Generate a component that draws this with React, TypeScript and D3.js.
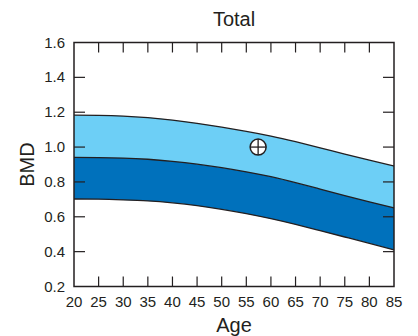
import React from "react";
import * as d3 from "d3";

const ages = [20, 25, 30, 35, 40, 45, 50, 55, 60, 65, 70, 75, 80, 85];
const upper = [1.183, 1.182, 1.178, 1.169, 1.155, 1.136, 1.114, 1.09, 1.063, 1.031, 0.996, 0.96, 0.925, 0.891];
const middle = [0.941, 0.94, 0.937, 0.93, 0.918, 0.902, 0.882, 0.858, 0.83, 0.796, 0.759, 0.722, 0.686, 0.651];
const lower = [0.702, 0.701, 0.697, 0.691, 0.68, 0.664, 0.643, 0.618, 0.589, 0.556, 0.52, 0.484, 0.448, 0.41];
const patient = { age: 57.4, bmd: 1.0 };
const xTicks = [20, 25, 30, 35, 40, 45, 50, 55, 60, 65, 70, 75, 80, 85];
const yTicks = [0.2, 0.4, 0.6, 0.8, 1.0, 1.2, 1.4, 1.6];

const W = 418, H = 336;
const L = 74, R = 394, T = 42.5, B = 286.5;
const FONT = "'Liberation Sans', Arial, Helvetica, sans-serif";
const INK = "#231f20";

export default function App() {
  const x = d3.scaleLinear().domain([20, 85]).range([L, R]);
  const y = d3.scaleLinear().domain([0.2, 1.6]).range([B, T]);
  const idx = ages.map((_, i) => i);
  const band = (a: number[], b: number[]) =>
    d3.area<number>().x(i => x(ages[i])).y0(i => y(b[i])).y1(i => y(a[i])).curve(d3.curveNatural)(idx) || "";
  const line = (a: number[]) =>
    d3.line<number>().x(i => x(ages[i])).y(i => y(a[i])).curve(d3.curveNatural)(idx) || "";
  const px = x(patient.age), py = y(patient.bmd);
  const r = 8;
  return (
    <svg width={W} height={H} style={{ position: "absolute", left: 0, top: 0 }} fontFamily={FONT}>
      <rect width={W} height={H} fill="#fff" />
      <path d={band(upper, middle)} fill="#6dcff6" />
      <path d={band(middle, lower)} fill="#0071bc" />
      {[upper, middle, lower].map((s, k) => (
        <path key={k} d={line(s)} fill="none" stroke={INK} strokeWidth={1.3} />
      ))}
      {xTicks.slice(1, -1).map(t => (
        <g key={"xt" + t} stroke={INK} strokeWidth={1.2}>
          <line x1={x(t)} x2={x(t)} y1={B} y2={B - 10} />
          <line x1={x(t)} x2={x(t)} y1={T} y2={T + 10} />
        </g>
      ))}
      {yTicks.slice(1, -1).map(t => (
        <g key={"yt" + t} stroke={INK} strokeWidth={1.2}>
          <line x1={L} x2={L + 11} y1={y(t)} y2={y(t)} />
          <line x1={R} x2={R - 11} y1={y(t)} y2={y(t)} />
        </g>
      ))}
      <rect x={L} y={T} width={R - L} height={B - T} fill="none" stroke={INK} strokeWidth={1.5} />
      {xTicks.map(t => (
        <text key={"xl" + t} x={x(t)} y={307} textAnchor="middle" fontSize={15} fill={INK}>{t}</text>
      ))}
      {yTicks.map(t => (
        <text key={"yl" + t} x={65} y={y(t) + 5} textAnchor="end" fontSize={15} fill={INK}>{t.toFixed(1)}</text>
      ))}
      <text x={(L + R) / 2} y={25.5} textAnchor="middle" fontSize={20} fill={INK}>Total</text>
      <text x={(L + R) / 2} y={331.5} textAnchor="middle" fontSize={20} fill={INK}>Age</text>
      <text transform={`translate(33.5,${(T + B) / 2}) rotate(-90)`} textAnchor="middle" fontSize={20} fill={INK}>BMD</text>
      <circle cx={px} cy={py} r={r} fill="#fff" stroke={INK} strokeWidth={1.5} />
      <line x1={px - r} x2={px + r} y1={py} y2={py} stroke={INK} strokeWidth={1.3} />
      <line x1={px} x2={px} y1={py - r} y2={py + r} stroke={INK} strokeWidth={1.3} />
    </svg>
  );
}
